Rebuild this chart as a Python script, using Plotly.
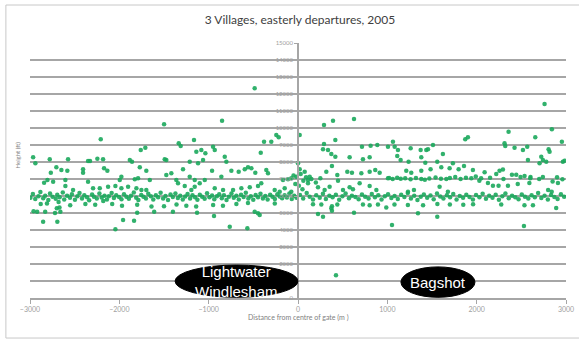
import plotly.graph_objects as go

# Heights of easterly departures vs distance from the centre of the gate
# each group is (distance m, height ft)
upper_scatter = [
    (-2208, 9335), (-2965, 8276), (-2779, 8159), (-2574, 8159), (-2350, 8059), (-2328, 8059),
    (-2246, 8194), (-2182, 8159), (-2940, 7924), (-2705, 7688), (-2649, 7529), (-2582, 7488),
    (-2406, 7570), (-2406, 7370), (-2171, 7629), (-2134, 7488), (-2767, 7370), (-2805, 6941),
    (-2842, 6782), (-2741, 6841), (-2604, 6941), (-2604, 6588), (-2518, 6353), (-2294, 6453),
    (-2219, 6453), (-2126, 6547), (-2044, 6588), (-2350, 6841),
    (-1499, 10216), (-1335, 9100), (-1313, 8941), (-1164, 9294), (-1760, 8706), (-1709, 8841),
    (-1138, 8606), (-1082, 8706), (-1037, 8512), (-1883, 8118), (-1858, 8018), (-1492, 8159),
    (-1474, 8118), (-1212, 8018), (-1287, 7570), (-1771, 7688), (-1698, 7488), (-1474, 7235),
    (-1418, 7335), (-1119, 7924), (-1063, 8118), (-1977, 7135), (-1995, 6941), (-1827, 6982),
    (-1790, 7041), (-1659, 6941), (-1362, 6941), (-1343, 6747), (-1212, 7135), (-1156, 6941),
    (-1100, 6747), (-1044, 6941), (-1977, 6453), (-1902, 6547), (-1809, 6453), (-1753, 6353),
    (-1698, 6353), (-1268, 6588), (-1194, 6353), (-1156, 6547),
    (-485, 12335), (-850, 10431), (-243, 9588), (-216, 9453), (-380, 9194), (-299, 9194),
    (-951, 8900), (-932, 8706), (-417, 8547), (-820, 8312), (-802, 8018), (-962, 7488),
    (-858, 7135), (-746, 7488), (-664, 7429), (-596, 7570), (-560, 7688), (-522, 7629),
    (-478, 7370), (-355, 7529), (-336, 7335), (-168, 6941), (-112, 6982), (-75, 7041),
    (-19, 7135), (0, 7924), (-932, 6453), (-839, 6353), (-727, 6353), (-634, 6453),
    (-540, 6512), (-448, 6588), (-411, 6747), (-261, 6353), (-205, 6253), (-149, 6453),
    (-75, 6253), (-50, 7200), (30, 7300), (60, 6900), (90, 7100), (150, 7000), (200, 6800),
    (250, 7050), (-30, 6700), (10, 6600), (50, 6400),
    (291, 10176), (392, 10431), (627, 10529), (19, 9588), (291, 9059), (418, 9294),
    (280, 8747), (336, 8706), (373, 8471), (418, 8312), (578, 8276), (716, 8900),
    (813, 8959), (888, 9000), (1007, 8900), (727, 8159), (802, 8276), (380, 7765),
    (19, 7570), (75, 7429), (131, 7135), (112, 6941), (317, 7429), (440, 7235),
    (552, 7429), (604, 7370), (709, 7335), (802, 7429), (865, 7529), (914, 7370),
    (1007, 7041), (112, 6747), (224, 6512), (298, 6353), (354, 6547), (448, 6900),
    (504, 6353), (578, 6512), (615, 6394), (690, 6747), (802, 6588), (877, 6353),
    (1872, 9335), (1902, 9453), (1063, 9194), (1082, 8900), (1119, 8706), (1511, 9000),
    (1111, 8353), (1149, 8118), (1261, 8806), (1373, 8706), (1436, 8706), (1455, 8747),
    (1380, 8276), (1622, 8471), (1238, 8018), (1425, 7959), (1559, 8018), (1734, 7924),
    (1798, 7570), (1858, 7765), (1604, 7688), (1697, 7629), (1212, 7488), (1268, 7370),
    (1380, 7488), (1484, 7570), (1958, 7529), (1231, 6253), (1298, 6353), (1585, 6547),
    (1678, 6253),
    (2760, 11412), (2357, 9782), (2842, 9924), (2656, 9453), (2312, 9100), (2320, 8941),
    (2424, 8841), (2518, 8706), (2566, 8900), (2954, 9194), (2805, 8747), (2816, 8606),
    (2723, 8312), (2741, 8118), (2779, 8018), (2704, 7924), (2574, 8118), (2965, 8018),
    (2984, 8076), (2089, 7400), (2219, 7300), (2256, 7480), (2294, 7560), (2395, 7250),
    (2443, 7250), (2491, 7120), (2536, 7180), (2603, 7120), (2741, 7120), (2030, 6900),
    (2126, 6760), (2182, 6600), (2245, 6600), (2350, 6600), (2460, 6700), (2590, 6760),
    (2850, 6850), (2910, 6760), (2800, 6350), (2840, 6250),
]

# second band around 7000 ft east of the gate
east_band = [
    (1020, 7060), (1060, 7000), (1110, 7080), (1150, 7020), (1200, 7040), (1260, 6980),
    (1320, 7060), (1380, 7000), (1420, 6950), (1470, 7030), (1540, 7090), (1600, 7020),
    (1660, 7000), (1700, 7060), (1760, 7120), (1820, 7000), (1880, 7080), (1940, 7040),
    (1990, 7150), (2050, 7040), (2150, 7080), (2300, 7000), (2600, 7050), (2700, 7000),
    (2900, 7100), (2960, 6980),
]

# main band around 6000 ft
main_band = [
    (-2995, 5900), (-2968, 6120), (-2941, 5820), (-2905, 5990), (-2884, 6230), (-2852, 5870),
    (-2830, 6010), (-2795, 5760), (-2776, 6150), (-2748, 5950), (-2712, 5840), (-2695, 6080),
    (-2668, 5930), (-2633, 6200), (-2617, 5800), (-2585, 6010), (-2552, 5900), (-2531, 6110),
    (-2497, 5780), (-2470, 5980), (-2446, 6180), (-2418, 5860), (-2392, 6040), (-2361, 5930),
    (-2338, 5750), (-2305, 6090), (-2284, 5960), (-2252, 5850), (-2223, 6140), (-2197, 5910),
    (-2166, 6020), (-2139, 5790), (-2118, 5990), (-2086, 6170), (-2061, 5880), (-2035, 6050),
    (-2003, 5940), (-1976, 5810), (-1948, 6110), (-1921, 5960), (-1893, 5840), (-1869, 6020),
    (-1838, 6210), (-1811, 5900), (-1787, 5770), (-1755, 6060), (-1730, 5950), (-1702, 5860),
    (-1676, 6130), (-1647, 5990), (-1620, 5800), (-1591, 6040), (-1566, 5920), (-1538, 6190),
    (-1510, 5850), (-1483, 6000), (-1455, 5760), (-1427, 6090), (-1401, 5940), (-1372, 6150),
    (-1345, 5880), (-1318, 6020), (-1290, 5790), (-1263, 5970), (-1236, 6120), (-1208, 5860),
    (-1181, 6040), (-1152, 5930), (-1126, 5780), (-1099, 6080), (-1073, 5950), (-1045, 5840),
    (-1018, 6160), (-991, 5920), (-962, 6030), (-937, 5810), (-908, 5990), (-882, 6110),
    (-853, 5870), (-829, 6050), (-800, 5760), (-774, 5960), (-745, 6140), (-719, 5890),
    (-690, 6020), (-663, 5800), (-637, 6070), (-609, 5940), (-584, 6190), (-556, 5850),
    (-528, 5990), (-501, 5780), (-474, 6060), (-448, 5920), (-420, 6130), (-393, 5860),
    (-366, 6000), (-340, 5790), (-312, 6080), (-286, 5950), (-259, 5830), (-231, 6100),
    (-205, 5970), (-178, 5870), (-150, 6040), (-124, 5910), (-96, 6150), (-70, 5820),
    (-43, 6010), (-17, 5900),
    (22, 6060), (58, 5850), (97, 6170), (131, 5960), (168, 5800), (204, 6040),
    (243, 5900), (279, 6130), (312, 5830), (351, 6010), (387, 5920), (424, 6080),
    (461, 5780), (497, 5990), (533, 6150), (570, 5870), (604, 6020), (642, 5940),
    (679, 5810), (716, 6090), (752, 5960), (790, 5850), (826, 6120), (861, 5930),
    (899, 6040), (935, 5790), (972, 5980), (1008, 6110), (1045, 5880), (1081, 6000),
    (1117, 5820), (1155, 6070), (1191, 5940), (1229, 6180), (1264, 5860), (1301, 6010),
    (1337, 5770), (1374, 5950), (1409, 6090), (1446, 5900), (1483, 6030), (1519, 5810),
    (1556, 6140), (1592, 5970), (1628, 5850), (1666, 6050), (1702, 5920), (1738, 6120),
    (1775, 5800), (1811, 6000), (1848, 5890), (1884, 6080), (1920, 5940), (1958, 5790),
    (1993, 6060), (2031, 5920), (2067, 6130), (2104, 5840), (2140, 6010), (2177, 5900),
    (2213, 6070), (2249, 5780), (2287, 5980), (2322, 6150), (2359, 5870), (2396, 6020),
    (2432, 5930), (2469, 5810), (2505, 6090), (2541, 5960), (2578, 5850), (2615, 6040),
    (2651, 5920), (2688, 6170), (2724, 5880), (2760, 6010), (2797, 5790), (2833, 6060),
    (2870, 5940), (2906, 5830), (2943, 6100), (2979, 5960),
]

# below the main band
lower_scatter = [
    (-2880, 5530), (-2810, 5560), (-2680, 5650), (-2550, 5450), (-2380, 5530), (-2270, 5490),
    (-2180, 5700), (-2080, 5530), (-2920, 5080), (-2830, 5080), (-2720, 5000), (-2660, 5080),
    (-2960, 5100), (-2700, 5275), (-2670, 5330), (-2853, 4490), (-2694, 4490), (-2044, 4040),
    (-1970, 5420), (-1800, 5480), (-1640, 5380), (-1500, 5400), (-1360, 5500), (-1250, 5420),
    (-1140, 5380), (-1800, 5020), (-1610, 5080), (-1400, 5080), (-1130, 5020), (-1958, 4588),
    (-1835, 4549), (-950, 5470), (-840, 5420), (-690, 5530), (-560, 5590), (-260, 5560),
    (-485, 5076), (-448, 4982), (-429, 4882), (-940, 4823), (-764, 4194), (-567, 4100),
    (168, 5520), (261, 5500), (380, 5400), (440, 5500), (727, 5500), (802, 5450),
    (895, 5500), (988, 5330), (373, 5276), (380, 5135), (224, 4941), (280, 4782),
    (627, 5020), (425, 1340), (1343, 4982), (1559, 4782), (1052, 4294),
    (1080, 5500), (1230, 5470), (1400, 5450), (1560, 5530), (1700, 5500), (1850, 5480),
    (1960, 5520), (2275, 5500), (2535, 5450), (2630, 5450), (2890, 5300), (2529, 4235),
]

x_ticks = [-3000, -2000, -1000, 0, 1000, 2000, 3000]
y_ticks = list(range(0, 15001, 1000))

points = upper_scatter + east_band + main_band + lower_scatter
distance_m = [p[0] for p in points]
height_ft = [p[1] for p in points]

fig = go.Figure()
fig.add_trace(go.Scatter(x=distance_m, y=height_ft, mode='markers',
                         marker=dict(color='#1ba85c', size=4.5, opacity=0.9, line=dict(width=0)),
                         showlegend=False, hoverinfo='skip'))

fig.update_layout(
    width=579, height=343,
    margin=dict(l=30, r=13, t=43, b=45),
    paper_bgcolor='white', plot_bgcolor='white',
    font=dict(family='Lato, Liberation Sans, sans-serif', color='#595959'),
    title=dict(text='3 Villages, easterly departures, 2005', x=0.518, xanchor='center',
               y=0.942, yanchor='middle', font=dict(size=12, color='#404040')),
    xaxis=dict(range=[-3000, 3000], tickvals=x_ticks, showgrid=False, zeroline=False,
               automargin=False, showline=True, linecolor='#a6a6a6', linewidth=1.5,
               ticks='outside', ticklen=4, tickcolor='#a6a6a6',
               tickfont=dict(size=7, color='#a0a0a0')),
    yaxis=dict(range=[0, 15000], tickvals=y_ticks, tickformat='d', showgrid=True,
               gridcolor='#a6a6a6', gridwidth=1.5, zeroline=False, anchor='free', position=0.5,
               automargin=False, showline=True, linecolor='#a6a6a6', linewidth=1.5,
               ticks='outside', ticklen=3, tickcolor='#a6a6a6',
               tickfont=dict(size=6, color='#a0a0a0')),
    showlegend=False,
)

# chart border
fig.add_shape(type='rect', xref='paper', yref='paper', x0=-0.045, x1=1.03, y0=-0.157, y1=1.149,
              line=dict(color='#c8c8c8', width=1), layer='below')

# village labels
fig.add_shape(type='circle', xref='x', yref='y', x0=-1376, x1=0, y0=40, y1=1940,
              fillcolor='black', line=dict(color='black', width=1), layer='above')
fig.add_shape(type='circle', xref='x', yref='y', x0=1152, x1=1981, y0=40, y1=1830,
              fillcolor='black', line=dict(color='black', width=1), layer='above')
fig.add_annotation(x=-688, y=1000, xref='x', yref='y', text='Lightwater<br>Windlesham',
                   showarrow=False, font=dict(family='Liberation Sans, Arial', size=15, color='white'))
fig.add_annotation(x=1566, y=940, xref='x', yref='y', text='Bagshot',
                   showarrow=False, font=dict(family='Liberation Sans, Arial', size=15, color='white'))

# axis titles
fig.add_annotation(x=0.5, y=-0.102, xref='paper', yref='paper', text='Distance from centre of gate (m )',
                   showarrow=False, font=dict(size=7, color='#808080'))
fig.add_annotation(x=-0.034, y=0.56, xref='paper', yref='paper', text='Height (ft)', textangle=-90,
                   showarrow=False, font=dict(size=6, color='#808080'))

# drop the page's default body margin so the figure sits at the top-left corner
fig.write_html("out.html", config={'displayModeBar': False},
               post_script="document.body.style.margin='0';")
